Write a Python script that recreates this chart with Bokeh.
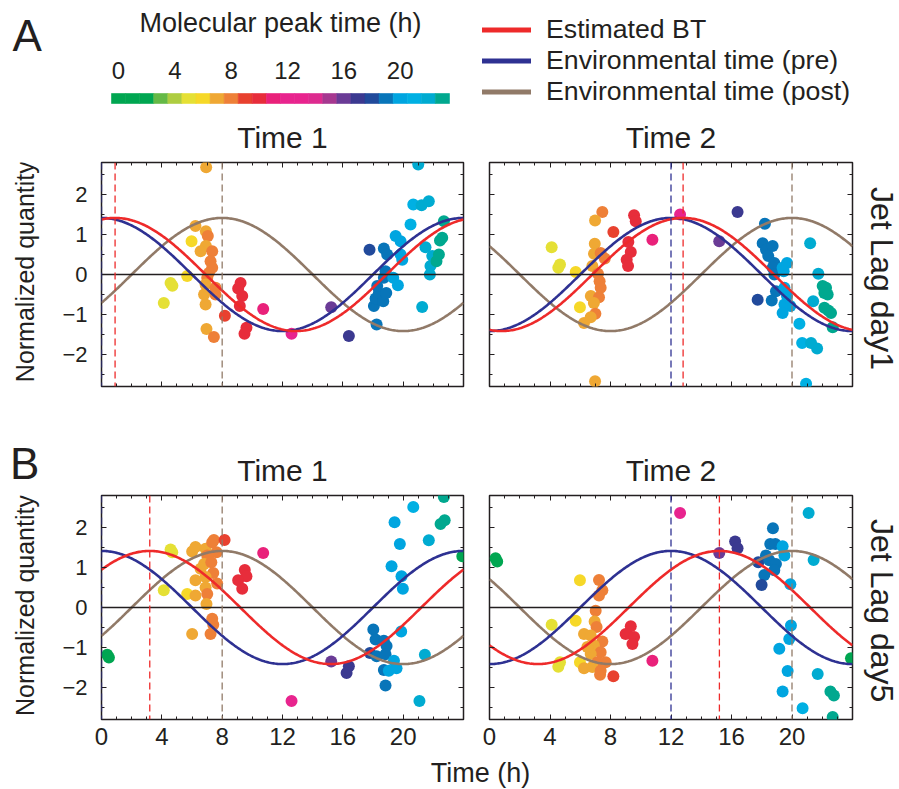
import numpy as np
from bokeh.plotting import figure
from bokeh.models import (Range1d, LinearAxis, FixedTicker, Span, Label, Legend, LegendItem,
                          ColumnDataSource, LinearColorMapper)
from bokeh.layouts import column, row
from bokeh.transform import transform
from bokeh.embed import file_html
from bokeh.resources import INLINE
from bokeh.core.properties import value

FONT = "Liberation Sans"
INK = "#231f20"
RED = "#ee2a2a"
BLUE = "#2e3192"
BROWN = "#917a68"
MID = 0.3465  # distance (in em) from the alphabetic baseline to the "middle" baseline

# ---------------- data ----------------
peak_palette = ["#00a651", "#00a651", "#00a651", "#65b946", "#aecd41", "#e5e035",
                "#f6d828", "#efa834", "#ee8038", "#e8412f", "#e72d3b", "#e9217a",
                "#e8248e", "#e8248e", "#dd2b8f", "#a63890", "#6a3b96", "#3b3990",
                "#214a9b", "#0875b9", "#00a5e0", "#00b0e3", "#00abd1", "#00a88f"]
colorbar_hours = list(range(24))
colorbar_tick_hours = [0, 4, 8, 12, 16, 20]

x_major_ticks = [0, 4, 8, 12, 16, 20]
x_minor_ticks = list(range(0, 25))
y_major_ticks = [-2, -1, 0, 1, 2]
y_minor_ticks = [-2.5, -2, -1.5, -1, -0.5, 0, 0.5, 1, 1.5, 2, 2.5]
x_limits = (0, 24)
y_limits = (-2.8, 2.8)

panel_titles = ["Time 1", "Time 2", "Time 1", "Time 2"]
row_labels = ["Jet Lag day1", "Jet Lag day5"]
panel_letters = ["A", "B"]
legend_labels = ["Estimated BT", "Environmental time (pre)", "Environmental time (post)"]
y_title = "Normalized quantity"
x_title = "Time (h)"
colorbar_title = "Molecular peak time (h)"

amplitude = 1.414
bt_peak = [0.9, 12.8, 3.2, 15.2]
env_pre_peak = [0.0, 12.0, 0.0, 12.0]
env_post_peak = [8.0, 20.0, 8.0, 20.0]

a1_time = [6.94, 6.23, 6.92, 7.05, 5.97, 6.92, 6.57, 7.34, 7.23, 7.34, 7.12, 5.68, 7.01, 6.90,
           7.56, 4.58, 4.70, 6.80, 7.56, 6.90, 4.13, 8.18, 6.96, 7.45, 9.22, 9.06, 9.33, 9.17,
           9.61, 9.48, 10.72, 12.60, 15.23, 16.40, 17.77, 18.72, 18.24, 18.06, 18.17, 18.39,
           18.28, 18.72, 18.83, 18.94, 18.68, 18.88, 19.34, 19.65, 19.50, 19.83, 19.94, 19.83,
           20.49, 20.67, 21.22, 21.70, 21.00, 21.26, 21.48, 21.93, 21.81, 21.77, 22.21, 22.37,
           22.59, 22.44, 22.70]
a1_value = [2.68, 1.21, 1.08, 0.96, 0.83, 0.71, 0.58, 0.58, 0.33, 0.17, 0.04, -0.04, -0.08,
            -0.25, -0.33, -0.21, -0.28, -0.50, -0.50, -0.75, -0.71, -1.03, -1.36, -1.56, -0.21,
            -0.35, -0.54, -0.79, -1.33, -1.48, -0.86, -1.48, -0.82, -1.54, 0.62, 0.65, -1.25,
            -0.79, -0.60, -0.46, -0.29, -0.08, 0.08, 0.50, -0.67, -0.46, -0.08, -0.27, 0.96,
            0.83, 0.37, 0.50, 1.25, 1.75, 1.73, 1.83, 2.75, -0.81, 0.68, 0.46, 0.21, 0.00,
            0.33, 0.50, 0.92, 0.85, 1.33]

a2_time = [4.11, 4.66, 4.55, 5.70, 5.98, 6.25, 7.46, 6.98, 8.19, 6.96, 6.91, 7.35, 7.62, 6.80,
           7.17, 7.28, 7.35, 6.70, 7.24, 6.90, 7.00, 6.69, 6.98, 9.56, 9.67, 9.18, 9.34, 9.07,
           9.16, 10.77, 12.60, 15.19, 16.40, 18.21, 18.06, 18.28, 18.72, 18.43, 18.83, 18.72,
           18.83, 17.73, 18.66, 18.94, 19.38, 19.67, 19.45, 19.50, 19.50, 19.67, 19.89, 19.38,
           20.49, 20.67, 21.26, 21.66, 20.93, 21.20, 21.40, 21.74, 22.03, 22.25, 22.36, 22.14,
           22.14, 22.40, 22.58, 22.69]
a2_value = [0.68, 0.25, 0.17, 0.06, -0.82, -1.21, 1.56, 1.35, 1.06, 0.77, 0.52, 0.54, 0.40,
            0.21, 0.02, -0.17, -0.33, -0.54, -0.57, -0.71, -0.98, -1.07, -2.67, 1.48, 1.33,
            0.81, 0.56, 0.37, 0.21, 0.87, 1.50, 0.83, 1.56, 1.27, 0.78, 0.62, 0.71, 0.46, 0.29,
            0.17, 0.00, -0.63, -0.65, -0.42, 0.17, 0.29, 0.08, -0.33, -0.75, -0.54, -0.79,
            -0.96, -1.23, -1.71, -1.71, -1.85, -2.73, 0.78, -0.67, 0.02, -0.29, -0.33, -0.50,
            -0.46, -0.83, -0.90, -0.96, -1.32]

b1_time = [0.38, 0.49, 4.58, 4.69, 4.13, 5.68, 6.23, 6.01, 6.01, 6.23, 6.23, 6.90, 7.34, 7.45,
           8.16, 7.63, 7.01, 6.80, 7.28, 6.57, 7.41, 6.90, 7.67, 6.90, 7.01, 6.96, 7.34, 7.41,
           7.23, 9.50, 9.61, 9.06, 9.33, 10.72, 12.60, 15.23, 16.40, 16.25, 18.02, 18.17, 17.80,
           18.24, 18.72, 18.90, 18.83, 18.72, 19.05, 18.83, 19.39, 19.56, 19.23, 19.43, 19.78,
           19.89, 19.98, 19.87, 20.67, 21.70, 21.44, 21.08, 22.48, 22.75, 22.70, 23.92]
b1_value = [-1.18, -1.25, 1.45, 1.38, 0.43, 0.34, 0.30, -0.66, 1.40, 1.51, 0.68, 1.47, 1.63,
            1.69, 1.69, 1.38, 1.30, 1.09, 1.13, 0.97, 0.86, 0.76, 0.60, 0.50, 0.34, 0.09, -0.28,
            -0.43, -0.66, 0.94, 0.78, 0.68, 0.47, 1.36, -2.34, -1.35, -1.47, -1.64, -0.55,
            -0.80, -1.14, -1.22, -0.83, -0.96, -1.17, -1.56, -1.58, -1.95, -1.33, -1.52, 1.03,
            2.13, 1.59, 0.78, 0.47, -0.60, 2.51, 1.68, -1.18, -2.34, 2.09, 2.18, 2.76, 1.28]

b2_time = [0.40, 0.51, 4.11, 4.66, 4.55, 5.70, 5.98, 6.25, 5.98, 6.25, 7.24, 7.46, 7.24, 7.02,
           6.95, 7.08, 6.69, 7.46, 6.90, 7.35, 6.69, 7.13, 7.68, 6.80, 7.35, 7.31, 8.19, 6.47,
           9.34, 9.00, 9.56, 9.45, 12.60, 10.77, 15.19, 16.24, 16.40, 18.74, 18.56, 18.90,
           19.38, 19.50, 18.28, 17.77, 18.50, 18.94, 18.83, 18.17, 17.99, 19.89, 19.93, 19.82,
           19.16, 19.71, 19.38, 20.70, 21.10, 21.43, 21.70, 22.54, 22.77, 22.69, 23.90]
b2_value = [1.23, 1.15, -0.43, -1.37, -1.48, -0.33, 0.68, -0.66, -1.37, -1.52, 0.69, 0.43, 0.30,
            -0.08, -0.35, -0.49, -0.70, -0.85, -0.95, -1.12, -1.16, -1.37, -1.37, -1.49, -1.58,
            -1.68, -1.72, -0.99, -0.47, -0.66, -0.74, -0.91, 2.36, -1.33, 1.36, 1.65, 1.48,
            1.98, 1.59, 1.59, 1.53, 1.30, 1.30, 1.13, 1.18, 1.09, 0.93, 0.81, 0.56, 0.58,
            -0.45, -0.79, -1.03, -1.59, -2.10, -2.52, 2.36, 1.19, -1.66, -2.10, -2.20, -2.74,
            -1.27]

panel_times = [a1_time, a2_time, b1_time, b2_time]
panel_values = [a1_value, a2_value, b1_value, b2_value]

# ---------------- drawing ----------------
mapper = LinearColorMapper(palette=peak_palette, low=-1, high=23,
                           high_color=peak_palette[0], low_color=peak_palette[0])


def txt(text, x, y, size, angle=0.0, align="center", x_units="data"):
    """x, y give the alphabetic baseline point; converted to the 'middle' anchor."""
    shift = MID * size
    if angle == 0.0:
        y = y + shift
    elif angle > 0:
        x = x - shift
    else:
        x = x + shift
    return Label(x=x, y=y, x_units=x_units, text=text, angle=angle, text_align=align,
                 text_baseline="middle", text_font=FONT, text_font_size=f"{size}px",
                 text_color=INK)


def blank_fig(w, h, xr=None, yr=None, mbt=0, mbb=0):
    f = figure(width=w, height=h, x_range=xr or Range1d(0, w), y_range=yr or Range1d(0, h),
               output_backend="svg", toolbar_location=None, title=None,
               x_axis_location=None, y_axis_location=None, min_border=0,
               min_border_top=mbt, min_border_bottom=mbb)
    f.outline_line_color = None
    f.grid.visible = False
    return f


def style_axis(ax, show, size, standoff):
    ax.axis_line_color = None
    ax.major_tick_in = 5
    ax.major_tick_out = 0
    ax.minor_tick_in = 3
    ax.minor_tick_out = 0
    ax.major_tick_line_color = INK
    ax.minor_tick_line_color = INK
    ax.major_tick_line_width = 1
    ax.minor_tick_line_width = 1
    if show:
        ax.major_label_text_font = FONT
        ax.major_label_text_font_size = size
        ax.major_label_text_color = INK
        ax.major_label_standoff = standoff
    else:
        ax.major_label_text_font_size = "1px"
        ax.major_label_text_color = None
        ax.major_label_text_alpha = 0
        ax.major_label_standoff = 0


def make_panel(k, w, h, mbl, mbr, mbt, mbb, bottom_labels, left_labels):
    p = figure(width=w, height=h, x_range=Range1d(*x_limits), y_range=Range1d(*y_limits),
               output_backend="svg", toolbar_location=None, title=None,
               x_axis_location=None, y_axis_location=None,
               min_border_left=mbl, min_border_right=mbr,
               min_border_top=mbt, min_border_bottom=mbb)
    p.outline_line_color = INK
    p.outline_line_width = 1.5
    p.grid.visible = False
    xt = FixedTicker(ticks=x_major_ticks, minor_ticks=x_minor_ticks)
    yt = FixedTicker(ticks=y_major_ticks, minor_ticks=y_minor_ticks)
    for side, show in (("below", bottom_labels), ("above", False)):
        ax = LinearAxis(ticker=xt)
        style_axis(ax, show, "24px", 8)
        p.add_layout(ax, side)
    for side, show in (("left", left_labels), ("right", False)):
        ax = LinearAxis(ticker=yt)
        style_axis(ax, show, "22px", 14)
        p.add_layout(ax, side)

    src = ColumnDataSource(dict(t=panel_times[k], v=panel_values[k]))
    p.scatter("t", "v", source=src, size=12, marker="circle",
              fill_color=transform("t", mapper), line_color=None)

    p.add_layout(Span(location=0, dimension="width", line_color=INK, line_width=1.3))

    tt = np.linspace(x_limits[0], x_limits[1], 289)
    for peak, col in ((env_post_peak[k], BROWN), (env_pre_peak[k], BLUE), (bt_peak[k], RED)):
        p.line(tt, amplitude * np.cos(2 * np.pi * (tt - peak) / 24.0),
               line_color=col, line_width=2.6)
    for peak, col in ((env_post_peak[k], BROWN), (env_pre_peak[k], BLUE), (bt_peak[k], RED)):
        p.add_layout(Span(location=peak, dimension="height", line_color=col,
                          line_dash="7 4", line_width=1.3))
    return p


def side_strip(w, h, mbt, mbb, label, base_x, centre_y, size, angle):
    # strip beside a row of panels; its frame lines up with the panel frames
    s = blank_fig(w, h, yr=Range1d(*y_limits), mbt=mbt, mbb=mbb)
    s.add_layout(txt(label, base_x, centre_y, size, angle=angle, align="center"))
    return s


# ---- header: panel letter A, colour key, legend, titles of row A ----
HDR_H = 156
hdr = blank_fig(899, HDR_H, xr=Range1d(-111 / 14.083, (899 - 111) / 14.083))
hdr.rect(x=[h + 0.5 for h in colorbar_hours], y=HDR_H - 98, width=1, height=10,
         fill_color=peak_palette, line_color=peak_palette, line_width=0.6)
hdr.text(x=[h + 0.5 for h in colorbar_tick_hours], y=HDR_H - 78.3 + MID * 24,
         text=[str(h) for h in colorbar_tick_hours], text_align="center",
         text_baseline="middle", text_font=value(FONT), text_font_size="24px",
         text_color=INK)
hdr.add_layout(txt(colorbar_title, 12, HDR_H - 31.7, 27))
hdr.add_layout(txt(panel_letters[0], 12, HDR_H - 50, 44, align="left", x_units="screen"))
hdr.add_layout(txt(panel_titles[0], 282, HDR_H - 147.7, 30, x_units="screen"))
hdr.add_layout(txt(panel_titles[1], 670.5, HDR_H - 147.7, 30, x_units="screen"))
leg_r = [hdr.line([-100, -99], [-100, -100], line_color=c, line_width=5, line_cap="round")
         for c in (RED, BLUE, BROWN)]
legend = Legend(items=[LegendItem(label=lab, renderers=[rr]) for lab, rr in zip(legend_labels, leg_r)],
                location=(482, HDR_H - 106.5), orientation="vertical", border_line_color=None,
                background_fill_alpha=0, padding=0, margin=0, spacing=0,
                glyph_width=49, glyph_height=31, label_height=31, label_standoff=15,
                label_text_font=FONT, label_text_font_size="26.7px", label_text_color=INK,
                label_text_baseline="middle")
hdr.add_layout(legend)

# ---- row A (frames 162..386) ----
RA_H, RA_T, RA_B = 254, 6, 24
la = side_strip(50, RA_H, RA_T, RA_B, y_title, 33, 0.07, 25, np.pi / 2)
a1 = make_panel(0, 426, RA_H, 51, 13, RA_T, RA_B, False, True)
a2 = make_panel(1, 384, RA_H, 13, 8, RA_T, RA_B, False, False)
ra = side_strip(39, RA_H, RA_T, RA_B, row_labels[0], 10, -0.1, 32, -np.pi / 2)

# ---- strip with letter B and titles of row B ----
SB_H = 79
sb = blank_fig(899, SB_H)
sb.add_layout(txt(panel_letters[1], 9.5, SB_H - (478 - 410), 44, align="left"))
sb.add_layout(txt(panel_titles[2], 282, SB_H - (480.7 - 410), 30))
sb.add_layout(txt(panel_titles[3], 670.5, SB_H - (480.7 - 410), 30))

# ---- row B (frames 495..719) ----
RB_H, RB_T, RB_B = 270, 6, 40
lb = side_strip(50, RB_H, RB_T, RB_B, y_title, 33, 0.05, 25, np.pi / 2)
b1 = make_panel(2, 426, RB_H, 51, 13, RB_T, RB_B, True, True)
b2 = make_panel(3, 384, RB_H, 13, 8, RB_T, RB_B, True, False)
rb = side_strip(39, RB_H, RB_T, RB_B, row_labels[1], 10, -0.08, 32, -np.pi / 2)

# ---- footer: shared x-axis title ----
FT_H = 30
ftr = blank_fig(899, FT_H)
ftr.add_layout(txt(x_title, 480, FT_H - (782 - 759), 27))

layout = column(hdr, row(la, a1, a2, ra), sb, row(lb, b1, b2, rb), ftr)
open("out.html", "w").write(file_html(layout, INLINE, "Jet lag"))
